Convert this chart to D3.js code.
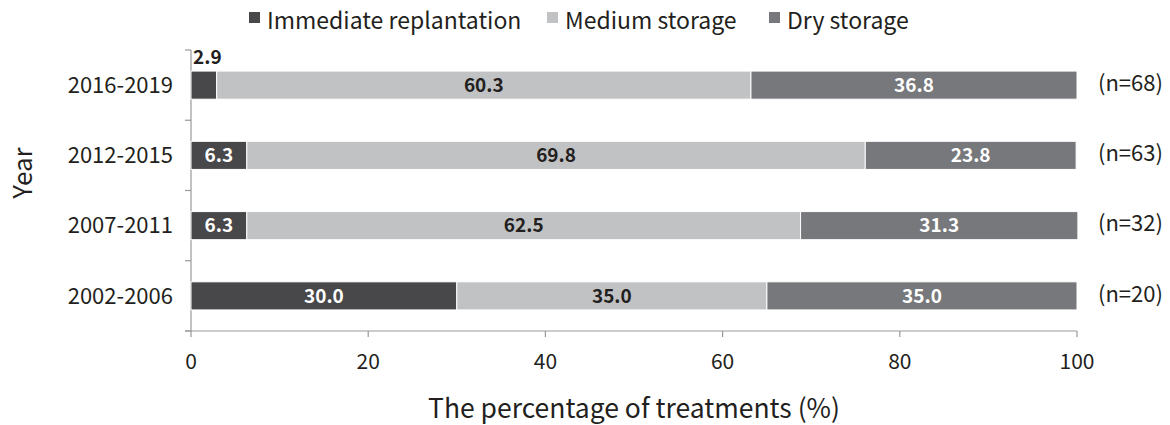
<!DOCTYPE html>
<html>
<head>
<meta charset="utf-8">
<script src="https://cdn.jsdelivr.net/npm/d3@7"></script>
<style>
	body { margin: 0; background: #fff; }
	text { font-family: 'Noto Sans CJK KR', 'Noto Sans', sans-serif; fill: #231f20; }
</style>
</head>
<body>
<div id="chart"></div>
<script>
const years = ['2016-2019', '2012-2015', '2007-2011', '2002-2006'];
const counts = ['(n=68)', '(n=63)', '(n=32)', '(n=20)'];
const seriesNames = ['Immediate replantation', 'Medium storage', 'Dry storage'];
const immediate = [2.9, 6.3, 6.3, 30.0];
const medium = [60.3, 69.8, 62.5, 35.0];
const dry = [36.8, 23.8, 31.3, 35.0];
const xTicks = [0, 20, 40, 60, 80, 100];

const colors = ['#48484a', '#c1c2c4', '#77787b'];
const labelColors = ['#fff', '#231f20', '#fff'];

const W = 1170, H = 425;
const margin = { top: 50, right: 93, bottom: 94, left: 191 };
const width = W - margin.left - margin.right;
const height = H - margin.top - margin.bottom;

const svg = d3.select('#chart').append('svg')
	.attr('width', W)
	.attr('height', H);

const g = svg.append('g')
	.attr('transform', 'translate(' + margin.left + ',' + margin.top + ')');

// rows of stacked values
const rows = years.map((y, i) => ({ year: y, n: counts[i], vals: [immediate[i], medium[i], dry[i]] }));

const x = d3.scaleLinear().domain([0, 100]).range([0, width]);
const y = d3.scaleBand().domain(years).range([0, height]).padding(0);
const barH = y.bandwidth() * 0.4;

// y axis (ticks on band edges)
g.append('line')
	.attr('x1', 0).attr('x2', 0)
	.attr('y1', 0).attr('y2', height)
	.attr('stroke', '#999').attr('stroke-width', 1.2);
const edges = d3.range(years.length + 1).map((i) => i * y.step());
g.selectAll('.ytick').data(edges).enter().append('line')
	.attr('x1', -6).attr('x2', 0)
	.attr('y1', (d) => d).attr('y2', (d) => d)
	.attr('stroke', '#999').attr('stroke-width', 1.2);
g.selectAll('.ylab').data(years).enter().append('text')
	.attr('x', -18)
	.attr('y', (d) => y(d) + y.bandwidth() / 2)
	.attr('dy', '0.35em')
	.attr('text-anchor', 'end')
	.style('font-size', '22px')
	.text((d) => d);

// x axis
g.append('line')
	.attr('x1', -6).attr('x2', width)
	.attr('y1', height).attr('y2', height)
	.attr('stroke', '#999').attr('stroke-width', 1.2);
g.selectAll('.xtick').data(xTicks).enter().append('line')
	.attr('x1', (d) => x(d)).attr('x2', (d) => x(d))
	.attr('y1', height).attr('y2', height + 6)
	.attr('stroke', '#999').attr('stroke-width', 1.2);
g.selectAll('.xlab').data(xTicks).enter().append('text')
	.attr('x', (d) => x(d))
	.attr('y', height + 38)
	.attr('text-anchor', 'middle')
	.style('font-size', '21px')
	.text((d) => d);

// bars
rows.forEach((r) => {
	let acc = 0;
	r.vals.forEach((v, k) => {
		const x0 = acc;
		acc += v;
		const cy = y(r.year) + y.bandwidth() / 2;
		g.append('rect')
			.attr('x', x(x0))
			.attr('y', cy - barH / 2)
			.attr('width', x(acc) - x(x0))
			.attr('height', barH)
			.attr('fill', colors[k])
			.attr('stroke', '#fff')
			.attr('stroke-width', 1);
		const small = v < 5;
		g.append('text')
			.attr('x', small ? x(x0) + 2 : x(x0 + v / 2))
			.attr('y', small ? cy - barH / 2 - 7 : cy)
			.attr('dy', small ? 0 : '0.36em')
			.attr('text-anchor', small ? 'start' : 'middle')
			.style('font-size', '19px')
			.style('font-weight', 'bold')
			.style('fill', small ? '#231f20' : labelColors[k])
			.text(v.toFixed(1));
	});
	g.append('text')
		.attr('x', width + 21)
		.attr('y', y(r.year) + y.bandwidth() / 2 - 2)
		.attr('dy', '0.35em')
		.style('font-size', '22px')
		.text(r.n);
});

// axis titles
svg.append('text')
	.attr('x', margin.left + width / 2)
	.attr('y', 418)
	.attr('text-anchor', 'middle')
	.style('font-size', '26.5px')
	.text('The percentage of treatments (%)');
svg.append('text')
	.attr('transform', 'translate(32,173) rotate(-90)')
	.attr('text-anchor', 'middle')
	.style('font-size', '26px')
	.text('Year');

// legend
const legendX = [249, 547, 769];
const legend = svg.selectAll('.leg').data(seriesNames).enter().append('g')
	.attr('transform', (d, i) => 'translate(' + legendX[i] + ',0)');
legend.append('rect')
	.attr('x', 0).attr('y', 12)
	.attr('width', 11).attr('height', 11)
	.attr('fill', (d, i) => colors[i]);
legend.append('text')
	.attr('x', 18).attr('y', 29)
	.style('font-size', '23px')
	.text((d) => d);
</script>
</body>
</html>
